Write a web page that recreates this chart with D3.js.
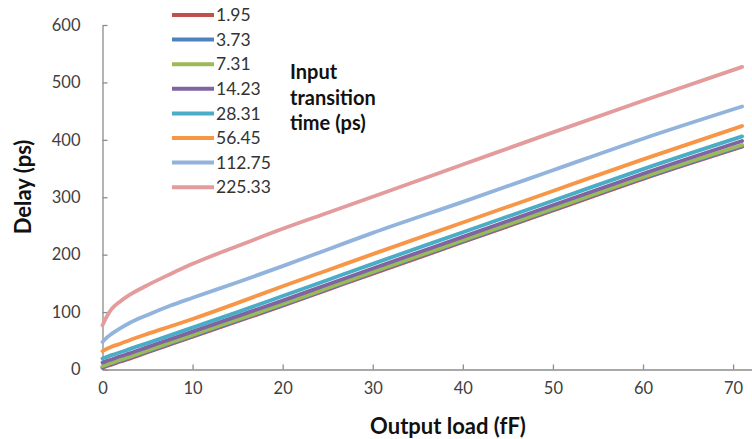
<!DOCTYPE html>
<html>
<head>
<meta charset="utf-8">
<script src="https://cdn.jsdelivr.net/npm/d3@7"></script>
<style>
  html, body { margin: 0; padding: 0; background: #fff; }
  svg { display: block; }
  text { font-family: Lato, "Open Sans", sans-serif; }
</style>
</head>
<body>
<div id="chart"></div>
<script>
// ---- data ----
const loads = [0, 0.5, 1, 2, 3, 5, 7.5, 10, 15, 20, 25, 30, 40, 50, 60, 71];
const seriesNames = ["1.95", "3.73", "7.31", "14.23", "28.31", "56.45", "112.75", "225.33"];
const delay_1_95   = [3, 6, 8.5, 14, 19, 30, 43.5, 57, 84, 111, 139, 167, 222, 277, 332, 388];
const delay_3_73   = [4.5, 7.5, 10, 15.5, 20.5, 31.5, 45, 58.5, 85.5, 112.5, 140.5, 168.5, 223.5, 278.5, 333.5, 389.5];
const delay_7_31   = [6, 9, 11.5, 17, 22, 33, 46.5, 60, 87, 114, 142, 170, 225, 280, 335, 391];
const delay_14_23  = [12, 15, 17.5, 23, 28, 39, 52.5, 66, 93, 120, 148, 176, 231, 286, 341, 398];
const delay_28_31  = [19, 22, 25, 30, 35.5, 46, 59.5, 73, 100, 128, 156, 184, 239, 294, 349, 406];
const delay_56_45  = [32, 36, 39.5, 45, 51, 62, 75, 88, 116, 145, 173, 201, 256, 311, 366, 424];
const delay_112_75 = [48, 56, 62, 72, 81, 95, 111, 125, 152, 180, 209, 238, 292, 347, 402, 458];
const delay_225_33 = [77, 93, 105, 119, 130, 147, 166, 184, 215, 245, 273, 301, 357, 413, 468, 527];
const seriesValues = [delay_1_95, delay_3_73, delay_7_31, delay_14_23, delay_28_31, delay_56_45, delay_112_75, delay_225_33];
const colors = ["#C0504D", "#4F81BD", "#9BBB59", "#8064A2", "#4BACC6", "#F79646", "#92B4DC", "#E39B9B"];
const xTicks = [0, 10, 20, 30, 40, 50, 60, 70];
const yTicks = [0, 100, 200, 300, 400, 500, 600];
const legendTitle = ["Input", "transition", "time (ps)"];
const xTitle = "Output load (fF)";
const yTitle = "Delay (ps)";

// ---- layout ----
const W = 752, H = 439;
const svg = d3.select("#chart").append("svg").attr("width", W).attr("height", H);

const x = d3.scaleLinear().domain([0, 72.1]).range([102.5, 752]);
const y = d3.scaleLinear().domain([0, 600]).range([369.5, 25]);

const axisColor = "#8c8c8c";
const labelColor = "#404040";

// x axis
const gx = svg.append("g").attr("transform", `translate(0,${y(0)})`)
  .call(d3.axisBottom(x).tickValues(xTicks).tickSizeInner(-5).tickSizeOuter(0).tickPadding(13));
gx.select(".domain").attr("stroke", axisColor).attr("stroke-width", 1.3);
gx.selectAll(".tick line").attr("stroke", axisColor).attr("stroke-width", 1.3);
gx.selectAll(".tick text").attr("fill", labelColor).attr("font-size", 16.5).attr("font-family", "Lato");

// y axis
const gy = svg.append("g").attr("transform", `translate(${x(0)},0)`)
  .call(d3.axisLeft(y).tickValues(yTicks).tickSizeInner(-5).tickSizeOuter(0).tickPadding(22));
gy.select(".domain").attr("stroke", axisColor).attr("stroke-width", 1.3);
gy.selectAll(".tick line").attr("stroke", axisColor).attr("stroke-width", 1.3);
gy.selectAll(".tick text").attr("fill", labelColor).attr("font-size", 16.5).attr("font-family", "Lato");

// lines
const line = d3.line()
  .x((d, i) => x(loads[i]))
  .y(d => y(d))
  .curve(d3.curveMonotoneX);

svg.append("g").selectAll("path")
  .data(seriesValues)
  .join("path")
  .attr("d", d => line(d))
  .attr("fill", "none")
  .attr("stroke", (d, i) => colors[i])
  .attr("stroke-width", 3.8)
  .attr("stroke-linejoin", "round")
  .attr("stroke-linecap", "round");

// axis titles
svg.append("text")
  .attr("x", 448).attr("y", 434)
  .attr("text-anchor", "middle")
  .attr("font-size", 22).attr("font-weight", "bold").attr("fill", "#111")
  .text(xTitle);

svg.append("text")
  .attr("transform", "translate(31,187) rotate(-90)")
  .attr("text-anchor", "middle")
  .attr("font-size", 22).attr("font-weight", "bold").attr("fill", "#111")
  .text(yTitle);

// legend
const lg = svg.append("g");
const legY0 = 15, legStep = 24.6;
seriesNames.forEach((name, i) => {
  const yy = legY0 + i * legStep;
  lg.append("line")
    .attr("x1", 172).attr("x2", 214)
    .attr("y1", yy).attr("y2", yy)
    .attr("stroke", colors[i]).attr("stroke-width", 4);
  lg.append("text")
    .attr("x", 216).attr("y", yy)
    .attr("dy", "0.35em")
    .attr("font-size", 17.5).attr("fill", "#333")
    .text(name);
});

// legend title
legendTitle.forEach((t, i) => {
  svg.append("text")
    .attr("x", 290).attr("y", 79 + i * 25.5)
    .attr("font-size", 20).attr("font-weight", "bold").attr("fill", "#111")
    .text(t);
});
</script>
</body>
</html>
